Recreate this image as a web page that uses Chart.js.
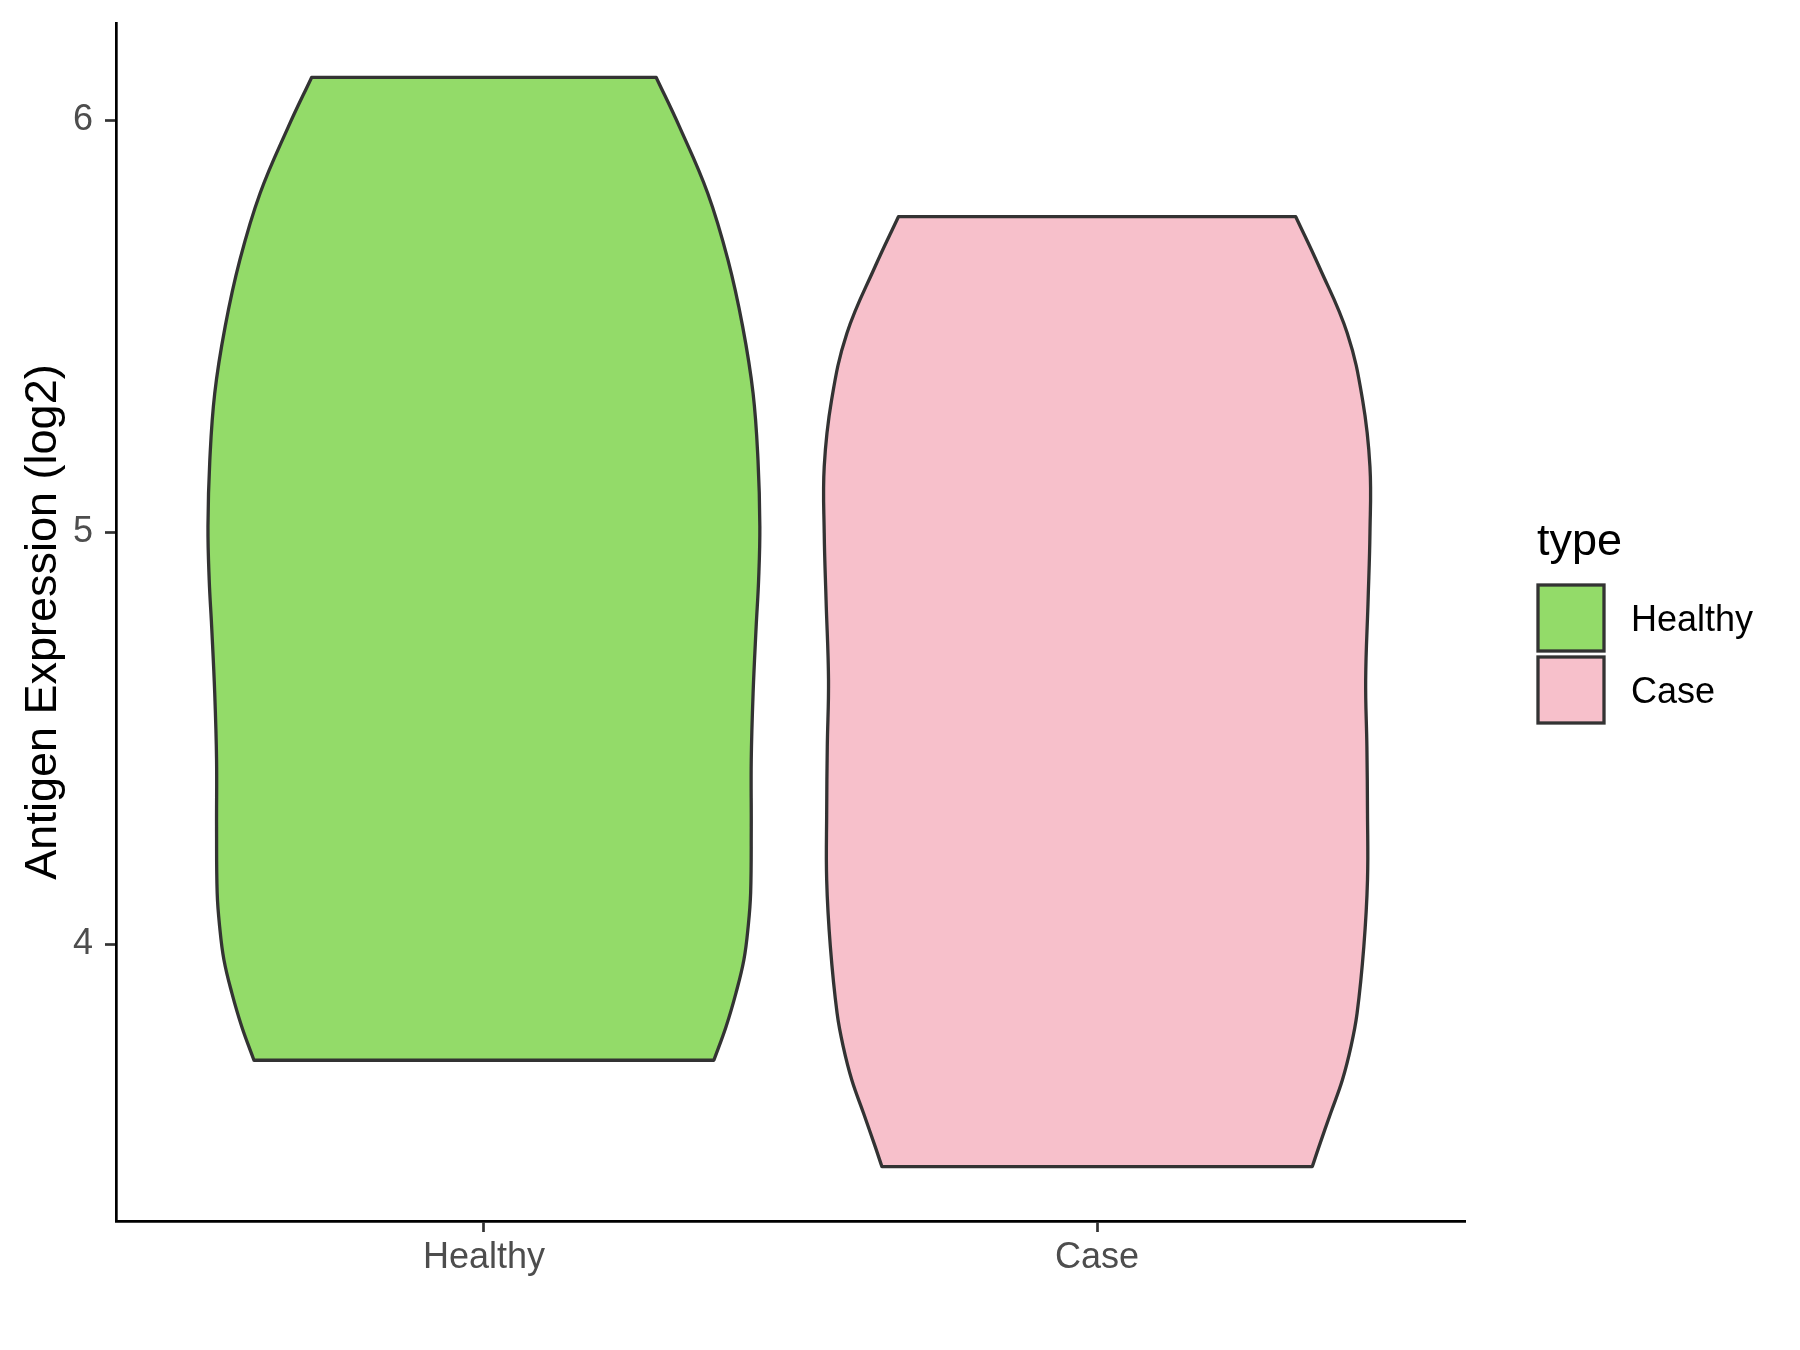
<!DOCTYPE html>
<html><head><meta charset="utf-8">
<script src="https://cdn.jsdelivr.net/npm/chart.js@4.4.1/dist/chart.umd.min.js"></script>
<style>html,body{margin:0;padding:0;background:#fff;} #wrap{width:1800px;height:1350px;position:relative;}</style>
</head><body><div id="wrap"><canvas id="c" width="1800" height="1350"></canvas></div>
<script>
// ---- data ----
const categories = ['Healthy', 'Case'];
const healthyY = [3.718, 3.800, 3.881, 3.962, 4.043, 4.124, 4.285, 4.447, 4.609, 4.771, 4.884, 5.014, 5.175, 5.337, 5.499, 5.661, 5.823, 5.984, 6.104];
const healthyHalfWidth = [0.375, 0.395, 0.411, 0.424, 0.431, 0.435, 0.436, 0.436, 0.439, 0.444, 0.448, 0.450, 0.447, 0.439, 0.422, 0.398, 0.365, 0.319, 0.281];
const caseY = [3.460, 3.509, 3.590, 3.670, 3.751, 3.832, 3.994, 4.156, 4.318, 4.480, 4.641, 4.836, 4.998, 5.159, 5.321, 5.483, 5.645, 5.766];
const caseHalfWidth = [0.351, 0.362, 0.381, 0.400, 0.414, 0.424, 0.435, 0.441, 0.441, 0.440, 0.438, 0.442, 0.445, 0.445, 0.433, 0.408, 0.362, 0.324];
const yTickValues = [4, 5, 6];
const xTickValues = [1, 2];
const fillColors = ['#93DB69', '#F7C0CB'];
const yAxisTitle = 'Antigen Expression (log2)';
const legendTitle = 'type';

const FONT = '"Liberation Sans", Arial, Helvetica, sans-serif';

// closed violin outline (corners duplicated so the spline keeps flat top/bottom)
function violinPoints(center, ys, hws) {
  const left = ys.map((y, i) => ({x: center - hws[i], y}));
  const right = ys.map((y, i) => ({x: center + hws[i], y})).reverse();
  const pts = [];
  pts.push(left[0]);
  left.forEach(p => pts.push(p));
  pts.push(left[left.length - 1]);
  pts.push(right[0]);
  right.forEach(p => pts.push(p));
  pts.push(right[right.length - 1]);
  pts.push(left[0]);
  return pts;
}

const allY = healthyY.concat(caseY);
const dMin = Math.min(...allY), dMax = Math.max(...allY);
const span = dMax - dMin;
const yMin = dMin - 0.05 * span, yMax = dMax + 0.05 * span;

const groups = [
  {ys: healthyY, hws: healthyHalfWidth},
  {ys: caseY, hws: caseHalfWidth}
];

const datasets = groups.map((g, i) => ({
  label: categories[i],
  data: violinPoints(i + 1, g.ys, g.hws),
  showLine: true,
  fill: 'shape',
  backgroundColor: fillColors[i],
  borderColor: '#333333',
  borderWidth: 3.3,
  borderJoinStyle: 'round',
  borderCapStyle: 'round',
  tension: 0.4,
  pointRadius: 0,
  pointHoverRadius: 0
}));

const legendPlugin = {
  id: 'customLegend',
  afterDraw(chart) {
    const ctx = chart.ctx;
    ctx.save();
    ctx.fillStyle = '#000000';
    ctx.font = '45px ' + FONT;
    ctx.textAlign = 'left';
    ctx.textBaseline = 'alphabetic';
    ctx.fillText(legendTitle, 1537, 555);
    categories.forEach((c, i) => {
      const x = 1538, y = 585 + i * 72, s = 66;
      ctx.fillStyle = fillColors[i];
      ctx.fillRect(x, y, s, s);
      ctx.strokeStyle = '#333333';
      ctx.lineWidth = 3.3;
      ctx.strokeRect(x, y, s, s);
      ctx.fillStyle = '#000000';
      ctx.font = '36px ' + FONT;
      ctx.textBaseline = 'alphabetic';
      ctx.fillText(c, 1631, y + s / 2 + 13);
    });
    ctx.restore();
  }
};

new Chart(document.getElementById('c'), {
  type: 'scatter',
  data: {datasets},
  plugins: [legendPlugin],
  options: {
    responsive: false,
    animation: false,
    events: [],
    layout: {padding: {top: 23, right: 335, left: 0, bottom: 0}},
    plugins: {legend: {display: false}, tooltip: {enabled: false}},
    scales: {
      x: {
        type: 'linear',
        min: 0.4, max: 2.6,
        afterFit: s => { s.height = 129; s.paddingLeft = 0; s.paddingRight = 0; },
        afterBuildTicks: s => { s.ticks = xTickValues.map(v => ({value: v})); },
        ticks: {
          callback: v => categories[v - 1],
          color: '#4D4D4D',
          font: {family: FONT, size: 36, lineHeight: 1.2},
          padding: 4,
          maxRotation: 0
        },
        grid: {drawOnChartArea: false, drawTicks: true, tickLength: 11, tickColor: '#333333', tickWidth: 2.7, color: '#333333'},
        border: {display: true, color: '#000000', width: 2.7}
      },
      y: {
        type: 'linear',
        min: yMin, max: yMax,
        afterFit: s => { s.width = 116; s.paddingTop = 0; s.paddingBottom = 0; },
        afterBuildTicks: s => { s.ticks = yTickValues.map(v => ({value: v})); },
        ticks: {
          callback: v => String(v),
          color: '#4D4D4D',
          font: {family: FONT, size: 36, lineHeight: 1.2},
          padding: 12
        },
        grid: {drawOnChartArea: false, drawTicks: true, tickLength: 11, tickColor: '#333333', tickWidth: 2.7, color: '#333333'},
        border: {display: true, color: '#000000', width: 2.7},
        title: {
          display: true,
          text: yAxisTitle,
          color: '#000000',
          font: {family: FONT, size: 45, lineHeight: 1.2},
          padding: {top: 17, bottom: 0}
        }
      }
    }
  }
});
</script>
</body></html>
